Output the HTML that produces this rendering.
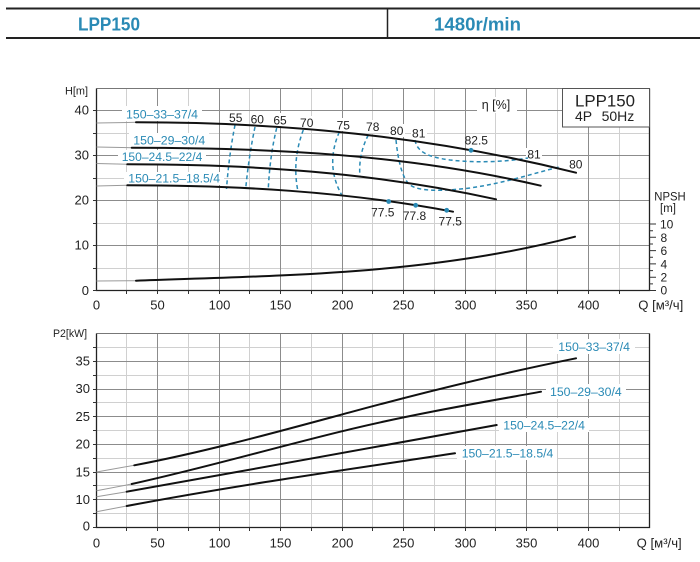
<!DOCTYPE html>
<html><head><meta charset="utf-8"><style>html,body{margin:0;padding:0;background:#fff}svg{display:block}</style></head>
<body>
<svg width="700" height="562" viewBox="0 0 700 562" xmlns="http://www.w3.org/2000/svg" font-family="'Liberation Sans', Arial, sans-serif">
<rect width="700" height="562" fill="#fff"/>
<!-- header -->
<line x1="6" y1="8.5" x2="700" y2="8.5" stroke="#222" stroke-width="2"/>
<line x1="6" y1="38" x2="700" y2="38" stroke="#222" stroke-width="2"/>
<line x1="387.5" y1="9" x2="387.5" y2="38" stroke="#222" stroke-width="1.5"/>
<text x="78" y="30.7" font-size="18.5" font-weight="bold" fill="#2a8ab5" textLength="62" lengthAdjust="spacingAndGlyphs">LPP150</text>
<text x="434" y="30.7" font-size="18.5" font-weight="bold" fill="#2a8ab5" textLength="87" lengthAdjust="spacingAndGlyphs">1480r/min</text>

<!-- ===== TOP CHART GRID ===== -->
<g stroke="#d0d0d0" stroke-width="1" fill="none">
<path d="M126.5,88.5V290.5M188.5,88.5V290.5M249.5,88.5V290.5M311.5,88.5V290.5M372.5,88.5V290.5M434.5,88.5V290.5M495.5,88.5V290.5M557.5,88.5V290.5M619.5,127V290.5"/>
<path d="M96.5,133.5H649.5M96.5,178.5H649.5M96.5,223.5H649.5M96.5,268.5H649.5"/>
</g>
<g stroke="#8c8c8c" stroke-width="1" fill="none">
<path d="M157.5,88.5V290.5M219.5,88.5V290.5M280.5,88.5V290.5M342.5,88.5V290.5M403.5,88.5V290.5M465.5,88.5V290.5M526.5,88.5V290.5M588.5,127V290.5"/>
<path d="M96.5,110.5H562.5M96.5,155.5H649.5M96.5,200.5H649.5M96.5,245.5H649.5"/>
<path d="M96.5,88.5H649.5" stroke="#777"/>
</g>
<!-- frame -->
<path d="M96.5,88.5V290.5H649.5V88.5" stroke="#222" stroke-width="1.3" fill="none"/>
<!-- ticks -->
<g stroke="#333" stroke-width="1">
<path d="M93,110.5H96.5M93,133.5H96.5M93,155.5H96.5M93,178.5H96.5M93,200.5H96.5M93,223.5H96.5M93,245.5H96.5M93,268.5H96.5M93,290.5H96.5"/>
<path d="M126.5,290.5V294M157.5,290.5V294M188.5,290.5V294M219.5,290.5V294M249.5,290.5V294M280.5,290.5V294M311.5,290.5V294M342.5,290.5V294M372.5,290.5V294M403.5,290.5V294M434.5,290.5V294M465.5,290.5V294M495.5,290.5V294M526.5,290.5V294M557.5,290.5V294M588.5,290.5V294M619.5,290.5V294"/>
<path d="M649.5,224H656M649.5,237.3H656M649.5,250.6H656M649.5,263.9H656M649.5,277.2H656M649.5,290.5H656"/>
<path d="M649.5,230.7H653M649.5,244H653M649.5,257.3H653M649.5,270.6H653M649.5,283.9H653"/>
</g>

<!-- LPP box -->
<rect x="562.5" y="88.5" width="87" height="38.5" fill="#fff" stroke="#555" stroke-width="1"/>
<text x="575" y="106.7" font-size="16.9" fill="#222" textLength="60" lengthAdjust="spacingAndGlyphs">LPP150</text>
<text x="575" y="121" font-size="14" fill="#222">4P</text>
<text x="634.3" y="121" font-size="14" fill="#222" text-anchor="end">50Hz</text>

<!-- label backgrounds top -->
<g fill="#fff">
<rect x="477" y="97" width="40" height="16"/>
<rect x="122" y="106" width="80" height="15"/>
<rect x="129" y="133" width="80" height="14"/>
<rect x="118" y="150" width="88" height="13.5"/>
<rect x="124" y="172" width="100" height="13"/>
<rect x="228" y="111" width="15" height="13"/>
<rect x="250" y="112" width="15" height="13"/>
<rect x="272" y="113" width="16" height="13"/>
<rect x="299" y="116" width="16" height="13"/>
<rect x="335" y="118" width="16" height="13"/>
<rect x="365" y="120" width="16" height="13"/>
<rect x="389" y="124" width="16" height="13"/>
<rect x="411" y="127" width="16" height="13"/>
<rect x="526" y="148" width="16" height="13"/>
</g>

<!-- gray extensions top -->
<g stroke="#9a9a9a" stroke-width="1" fill="none">
<path d="M96.5,123L136,122.3"/>
<path d="M96.5,147L131.7,147.7"/>
<path d="M96.5,163.5L127.3,164.3"/>
<path d="M96.5,186L127.3,185.3"/>
<path d="M96.5,281L136,280.7"/>
</g>

<!-- dashed efficiency curves -->
<g stroke="#2a8ab5" stroke-width="1.5" fill="none" stroke-dasharray="4 3">
<path d="M235,125 Q229,155 226.5,189"/>
<path d="M255,127 Q249,155 245.7,188.5"/>
<path d="M276.7,128 Q270,155 268.3,188.5"/>
<path d="M303.3,130 Q292,160 297.7,190"/>
<path d="M339.3,132 Q325,165 341.7,195"/>
<path d="M368.3,135 Q358,155 360,177"/>
<path d="M396,140 C398,160 402,178 410,185 C420,192 445,191 470,188 C505,183 535,173 559,167"/>
<path d="M415,140 C417,152 428,157 450,160 C475,163 505,162 528,158"/>
</g>

<!-- head curves -->
<g stroke="#111" stroke-width="2" fill="none" stroke-linecap="round">
<path d="M136,122.3 C283,122.3 429,136 576,172.7"/>
<path d="M131.7,147.7 C268,147.7 405,154 540.7,185.7"/>
<path d="M127.3,164.3 C250,164.3 373,172.2 496,199.3"/>
<path d="M127.3,185.3 C235,185.3 345,191.2 453,211.7"/>
<path d="M136,280.7 C282,275.4 429,274.7 575,236.7"/>
</g>
<g fill="#2a8ab5">
<circle cx="471" cy="150.3" r="2.4"/>
<circle cx="388.7" cy="201.5" r="2.4"/>
<circle cx="415.7" cy="205.3" r="2.4"/>
<circle cx="446.7" cy="210.3" r="2.4"/>
</g>

<!-- top labels -->
<g font-size="12.3" fill="#2a8ab5">
<text x="126" y="118.5" textLength="72" lengthAdjust="spacingAndGlyphs">150–33–37/4</text>
<text x="133.3" y="144.3" textLength="72" lengthAdjust="spacingAndGlyphs">150–29–30/4</text>
<text x="121.7" y="161" textLength="80.6" lengthAdjust="spacingAndGlyphs">150–24.5–22/4</text>
<text x="128.3" y="182.6" textLength="91.7" lengthAdjust="spacingAndGlyphs">150–21.5–18.5/4</text>
</g>
<g font-size="12" fill="#222" text-anchor="middle">
<text x="235.7" y="122">55</text>
<text x="257.3" y="123.3">60</text>
<text x="280" y="124.3">65</text>
<text x="306.7" y="127">70</text>
<text x="343.3" y="129.3">75</text>
<text x="372.7" y="131">78</text>
<text x="396.7" y="135">80</text>
<text x="418.7" y="137.6">81</text>
<text x="476.3" y="144.3">82.5</text>
<text x="534" y="158.3">81</text>
<text x="575.8" y="168.6">80</text>
<text x="382.8" y="216.6">77.5</text>
<text x="414.5" y="219.8">77.8</text>
<text x="450.2" y="225.3">77.5</text>
</g>
<text x="481.7" y="109" font-size="12.5" fill="#222">η [%]</text>

<!-- top axis labels -->
<g font-size="13" fill="#222" text-anchor="end">
<text x="89" y="114.6">40</text>
<text x="89" y="159.6">30</text>
<text x="89" y="204.6">20</text>
<text x="89" y="249.6">10</text>
<text x="89" y="294.8">0</text>
</g>
<text x="65" y="94.3" font-size="11" fill="#222" textLength="23" lengthAdjust="spacingAndGlyphs">H[m]</text>
<g font-size="12" fill="#222">
<text x="660" y="228.3">10</text>
<text x="660.5" y="241.8">8</text>
<text x="660.5" y="255.1">6</text>
<text x="660.5" y="268.4">4</text>
<text x="660.5" y="281.7">2</text>
<text x="660.5" y="294.6">0</text>
</g>
<text x="654.3" y="200.3" font-size="11.5" fill="#222" textLength="31.4" lengthAdjust="spacingAndGlyphs">NPSH</text>
<text x="660" y="211.8" font-size="11.5" fill="#222">[m]</text>
<g font-size="13" fill="#222" text-anchor="middle">
<text x="96.5" y="309.5">0</text>
<text x="157.5" y="309.5">50</text>
<text x="219.5" y="309.5">100</text>
<text x="280.5" y="309.5">150</text>
<text x="342.5" y="309.5">200</text>
<text x="403.5" y="309.5">250</text>
<text x="465.5" y="309.5">300</text>
<text x="526.5" y="309.5">350</text>
<text x="588.5" y="309.5">400</text>
</g>
<text x="638.3" y="309.5" font-size="13" fill="#222" textLength="45" lengthAdjust="spacingAndGlyphs">Q [м³/ч]</text>

<!-- ===== BOTTOM CHART ===== -->
<g stroke="#d0d0d0" stroke-width="1" fill="none">
<path d="M126.5,333.5V527.5M188.5,333.5V527.5M249.5,333.5V527.5M311.5,333.5V527.5M372.5,333.5V527.5M434.5,333.5V527.5M495.5,333.5V527.5M557.5,333.5V527.5M619.5,333.5V527.5"/>
<path d="M96.5,347.5H649.5M96.5,375.5H649.5M96.5,402.5H649.5M96.5,430.5H649.5M96.5,458.5H649.5M96.5,485.5H649.5M96.5,513.5H649.5"/>
</g>
<g stroke="#8c8c8c" stroke-width="1" fill="none">
<path d="M157.5,333.5V527.5M219.5,333.5V527.5M280.5,333.5V527.5M342.5,333.5V527.5M403.5,333.5V527.5M465.5,333.5V527.5M526.5,333.5V527.5M588.5,333.5V527.5"/>
<path d="M96.5,361.5H649.5M96.5,389.5H649.5M96.5,416.5H649.5M96.5,444.5H649.5M96.5,472.5H649.5M96.5,499.5H649.5"/>
<path d="M96.5,333.5H649.5" stroke="#777"/>
</g>
<path d="M96.5,333.5V527.5H649.5V333.5" stroke="#222" stroke-width="1.3" fill="none"/>
<g stroke="#333" stroke-width="1">
<path d="M93,347.5H96.5M93,361.5H96.5M93,375.5H96.5M93,389.5H96.5M93,402.5H96.5M93,416.5H96.5M93,430.5H96.5M93,444.5H96.5M93,458.5H96.5M93,472.5H96.5M93,485.5H96.5M93,499.5H96.5M93,513.5H96.5M93,527.5H96.5"/>
<path d="M126.5,527.5V531M157.5,527.5V531M188.5,527.5V531M219.5,527.5V531M249.5,527.5V531M280.5,527.5V531M311.5,527.5V531M342.5,527.5V531M372.5,527.5V531M403.5,527.5V531M434.5,527.5V531M465.5,527.5V531M495.5,527.5V531M526.5,527.5V531M557.5,527.5V531M588.5,527.5V531M619.5,527.5V531"/>
</g>
<g fill="#fff">
<rect x="553" y="339" width="82" height="15"/>
<rect x="546" y="384" width="80" height="15"/>
<rect x="499" y="418" width="90" height="14"/>
<rect x="457" y="446" width="100" height="14"/>
</g>
<g stroke="#9a9a9a" stroke-width="1" fill="none">
<path d="M96.5,472L134.3,465.3"/>
<path d="M96.5,490.7L131.7,484"/>
<path d="M96.5,496.7L126.7,491.7"/>
<path d="M96.5,511.7L126.7,506"/>
</g>
<g stroke="#111" stroke-width="2" fill="none" stroke-linejoin="round" stroke-linecap="round">
<path d="M134.3,465.3 C206.3,451.6 278,431.7 350,412.3 C425,392.05 501,373.3 576,358.3"/>
<path d="M131.7,484 C204.5,468 277.2,446.8 350,429.3 C413.7,414 477.3,403.2 541,391.7"/>
<path d="M126.7,491.7 C250,469.5 373,448 496.7,425"/>
<path d="M126.7,506 C236,485.3 346,469.7 455,453.3"/>
</g>
<g font-size="12.3" fill="#2a8ab5">
<text x="558.3" y="351" textLength="71.7" lengthAdjust="spacingAndGlyphs">150–33–37/4</text>
<text x="550" y="396" textLength="71.7" lengthAdjust="spacingAndGlyphs">150–29–30/4</text>
<text x="503.3" y="429.3" textLength="81.7" lengthAdjust="spacingAndGlyphs">150–24.5–22/4</text>
<text x="461.7" y="457.6" textLength="91.6" lengthAdjust="spacingAndGlyphs">150–21.5–18.5/4</text>
</g>
<g font-size="13" fill="#222" text-anchor="end">
<text x="90" y="365.5">35</text>
<text x="90" y="392.8">30</text>
<text x="90" y="420.8">25</text>
<text x="90" y="448.5">20</text>
<text x="90" y="476.3">15</text>
<text x="90" y="503.8">10</text>
<text x="90" y="530.6">0</text>
</g>
<text x="53" y="337" font-size="11" fill="#222" textLength="34" lengthAdjust="spacingAndGlyphs">P2[kW]</text>
<g font-size="13" fill="#222" text-anchor="middle">
<text x="96.5" y="547.5">0</text>
<text x="157.5" y="547.5">50</text>
<text x="219.5" y="547.5">100</text>
<text x="280.5" y="547.5">150</text>
<text x="342.5" y="547.5">200</text>
<text x="403.5" y="547.5">250</text>
<text x="465.5" y="547.5">300</text>
<text x="526.5" y="547.5">350</text>
<text x="588.5" y="547.5">400</text>
</g>
<text x="636.7" y="547.5" font-size="13" fill="#222" textLength="45" lengthAdjust="spacingAndGlyphs">Q [м³/ч]</text>
</svg>
</body></html>
